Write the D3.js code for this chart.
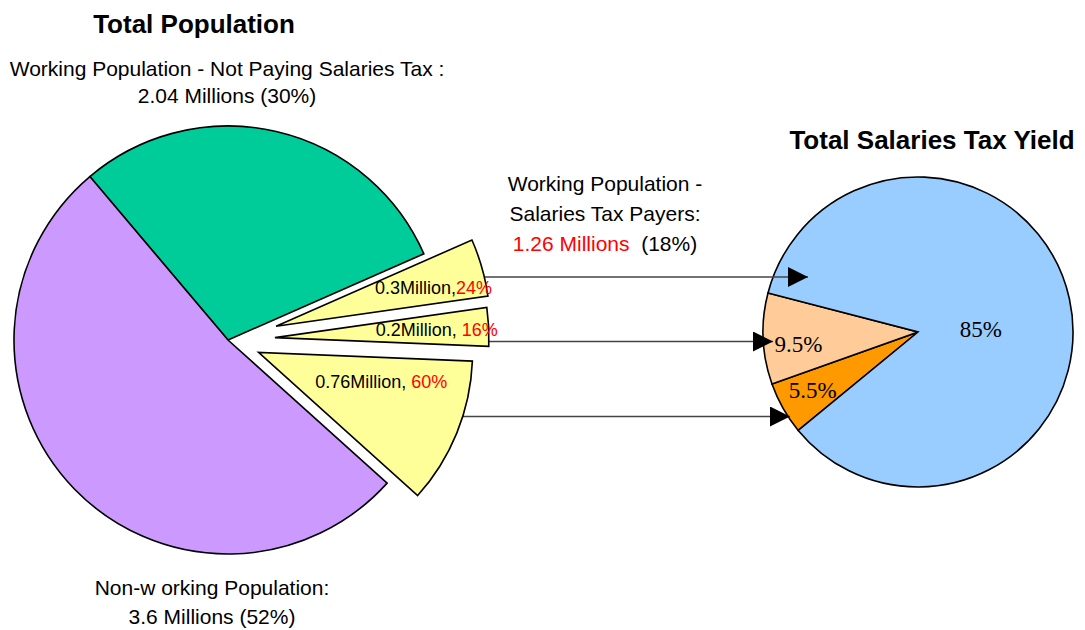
<!DOCTYPE html>
<html>
<head>
<meta charset="utf-8">
<script src="https://cdn.jsdelivr.net/npm/d3@7"></script>
<style>
  body { margin: 0; background: #fff; }
  text { font-family: "Liberation Sans", Arial, sans-serif; }
</style>
</head>
<body>
<script>
// data
var popNames = ['Working Population - Not Paying Salaries Tax', 'Payers 0.3M', 'Payers 0.2M', 'Payers 0.76M', 'Non-working Population'];
var popValues = [2.04, 0.3, 0.2, 0.76, 3.6];
var payerLabels = ['0.3Million,', '0.2Million, ', '0.76Million, '];
var payerShares = ['24%', '16%', '60%'];
var yieldNames = ['5.5%', '9.5%', '85%'];
var yieldValues = [5.5, 9.5, 85];

var popColors = ['#00cc99', '#ffff99', '#ffff99', '#ffff99', '#cc99ff'];
var yieldColors = ['#ff9900', '#ffcc99', '#99ccff'];

var W = 1085, H = 630;
var deg = Math.PI / 180;

var svg = d3.select('body').append('svg')
    .attr('width', W)
    .attr('height', H);

// layout
var left = {x: 228, y: 340, r: 214};
var right = {x: 918, y: 332, r: 155};
var explode = [0, 50, 47, 33, 0];
var labelR = [0, 162, 162, 126, 0];
var labelShift = [0, 2.2, 0.2, -8.8, 0];
var yLabelR = [120, 120, 63];
var yLabelShift = [0.9, -3, 9.7];

// arrows (drawn first, so the slices cover the start)
var arrowY = [277, 341.5, 416.5];
var arrowEnd = [808, 773, 790];

svg.append('defs').append('marker')
    .attr('id', 'head')
    .attr('viewBox', '0 0 20 20')
    .attr('refX', 20).attr('refY', 10)
    .attr('markerWidth', 20).attr('markerHeight', 20)
    .attr('markerUnits', 'userSpaceOnUse')
    .attr('orient', 'auto')
  .append('path')
    .attr('d', 'M0,0 L20,10 L0,20 Z')
    .attr('fill', '#000');

svg.selectAll('line.arrow')
  .data(arrowY)
  .enter().append('line')
    .attr('class', 'arrow')
    .attr('x1', 440)
    .attr('x2', function(d, i) { return arrowEnd[i]; })
    .attr('y1', function(d) { return d; })
    .attr('y2', function(d) { return d; })
    .attr('stroke', '#444')
    .attr('stroke-width', 1.5)
    .attr('marker-end', 'url(#head)');

// left pie
var pieL = d3.pie().sort(null)
    .startAngle(-40.2 * deg)
    .endAngle(319.8 * deg);
var arcL = d3.arc().innerRadius(0).outerRadius(left.r);

var gL = svg.append('g').attr('transform', 'translate(' + left.x + ',' + left.y + ')');
var slicesL = pieL(popValues);

function polar(r, a) { return [r * Math.sin(a), -r * Math.cos(a)]; }

gL.selectAll('path')
  .data(slicesL)
  .enter().append('path')
    .attr('d', arcL)
    .attr('transform', function(d, i) {
      var p = polar(explode[i], (d.startAngle + d.endAngle) / 2);
      return 'translate(' + p[0] + ',' + p[1] + ')';
    })
    .attr('fill', function(d, i) { return popColors[i]; })
    .attr('stroke', '#000')
    .attr('stroke-width', 1.6)
    .attr('stroke-linejoin', 'miter');

// labels inside the yellow slices
var payerText = gL.selectAll('text.payer')
  .data(slicesL.slice(1, 4))
  .enter().append('text')
    .attr('class', 'payer')
    .attr('text-anchor', 'middle')
    .attr('dy', '0.35em')
    .attr('font-size', 18)
    .attr('transform', function(d, k) {
      var i = k + 1, mid = (d.startAngle + d.endAngle) / 2;
      var c = polar(explode[i], mid);
      var p = polar(labelR[i], mid + labelShift[i] * deg);
      return 'translate(' + (c[0] + p[0]) + ',' + (c[1] + p[1]) + ')';
    });
payerText.append('tspan').attr('fill', '#000').text(function(d, k) { return payerLabels[k]; });
payerText.append('tspan').attr('fill', '#ff0000').text(function(d, k) { return payerShares[k]; });

// right pie
var pieR = d3.pie().sort(null)
    .startAngle(230.6 * deg)
    .endAngle(590.6 * deg);
var arcR = d3.arc().innerRadius(0).outerRadius(right.r);
var gR = svg.append('g').attr('transform', 'translate(' + right.x + ',' + right.y + ')');
var slicesR = pieR(yieldValues);

gR.selectAll('path')
  .data(slicesR)
  .enter().append('path')
    .attr('d', arcR)
    .attr('fill', function(d, i) { return yieldColors[i]; })
    .attr('stroke', '#000')
    .attr('stroke-width', 1.6);

gR.selectAll('text')
  .data(slicesR)
  .enter().append('text')
    .attr('text-anchor', 'middle')
    .attr('dy', '0.35em')
    .style('font-family', '"Liberation Serif", "Times New Roman", serif')
    .attr('font-size', 23)
    .attr('transform', function(d, i) {
      var p = polar(yLabelR[i], (d.startAngle + d.endAngle) / 2 + yLabelShift[i] * deg);
      return 'translate(' + p[0] + ',' + p[1] + ')';
    })
    .text(function(d, i) { return yieldNames[i]; });

// moved arrows above the right pie (heads sit on top of it)
svg.selectAll('line.arrow').raise();
gL.raise();

// titles and labels
svg.append('text').attr('x', 194).attr('y', 33)
    .attr('text-anchor', 'middle').attr('font-size', 26).attr('font-weight', 'bold')
    .text('Total Population');
svg.append('text').attr('x', 932).attr('y', 149)
    .attr('text-anchor', 'middle').attr('font-size', 26).attr('font-weight', 'bold')
    .text('Total Salaries Tax Yield');

function block(x, ys, lines) {
  lines.forEach(function(parts, i) {
    var t = svg.append('text').attr('x', x).attr('y', ys[i])
        .attr('text-anchor', 'middle').attr('font-size', 21);
    parts.forEach(function(p) {
      t.append('tspan').attr('fill', p[1] || '#000').attr('xml:space', 'preserve').text(p[0]);
    });
  });
}

block(227, [76, 103], [
  [['Working Population - Not Paying Salaries Tax :']],
  [['2.04 Millions (30%)']]
]);
block(605, [191, 221, 251], [
  [['Working Population -']],
  [['Salaries Tax Payers:']],
  [['1.26 Millions', '#ff0000'], ['\u00a0\u00a0(18%)']]
]);
block(212, [595, 624], [
  [['Non-w orking Population:']],
  [['3.6 Millions (52%)']]
]);
</script>
</body>
</html>
